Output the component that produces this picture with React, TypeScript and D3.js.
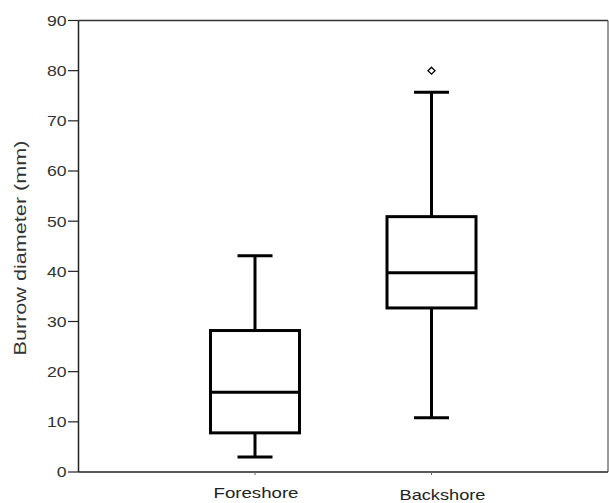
import React from "react";
import * as d3 from "d3";

const categories = ["Foreshore", "Backshore"];
const lowerWhisker = [3.0, 10.8];
const q1 = [7.8, 32.7];
const median = [15.9, 39.7];
const q3 = [28.2, 50.9];
const upperWhisker = [43.1, 75.7];
const outliers: number[][] = [[], [80]];
const yTicks = [0, 10, 20, 30, 40, 50, 60, 70, 80, 90];

const W = 609;
const H = 503;
const left = 78.5;
const right = 608;
const top = 20.5;
const bottom = 472;

export default function App() {
  const y = d3.scaleLinear().domain([0, 90]).range([bottom, top]);
  const x = d3.scalePoint<string>().domain(categories).range([left, right]).padding(1);
  const boxW = 89;
  const capW = 35;
  const font = "Arial, 'Liberation Sans', sans-serif";
  const labelDx = [1, 11];
  const labelY = [498, 499.5];
  const labelLen = [85, 86];
  return (
    <svg width={W} height={H} style={{ position: "absolute", left: 0, top: 0 }}>
      <rect x={0} y={0} width={W} height={H} fill="#fff" />
      <line x1={left} x2={right} y1={top} y2={top} stroke="#333" strokeWidth={1.5} />
      <line x1={right} x2={right} y1={top} y2={bottom} stroke="#555" strokeWidth={1.2} />
      <line x1={left} x2={right} y1={bottom} y2={bottom} stroke="#222" strokeWidth={1.5} />
      <line x1={left} x2={left} y1={top} y2={bottom} stroke="#222" strokeWidth={1.5} />
      {yTicks.map((t) => {
        const s = String(t);
        return (
          <g key={t}>
            <line x1={left - 10.5} x2={left} y1={y(t)} y2={y(t)} stroke="#222" strokeWidth={1.2} />
            <text
              x={66.5}
              y={y(t)}
              dy="0.36em"
              textAnchor="end"
              fontFamily={font}
              fontSize={15}
              fill="#333"
              textLength={s.length * 9.8}
              lengthAdjust="spacingAndGlyphs"
            >
              {s}
            </text>
          </g>
        );
      })}
      <text
        transform={`translate(26,${248}) rotate(-90)`}
        textAnchor="middle"
        fontFamily={font}
        fontSize={16.5}
        fill="#333"
        textLength={215}
        lengthAdjust="spacingAndGlyphs"
      >
        Burrow diameter (mm)
      </text>
      {categories.map((c, i) => {
        const cx = x(c)!;
        return (
          <g key={c} stroke="#000" strokeWidth={3} fill="none">
            <line x1={cx} x2={cx} y1={y(upperWhisker[i])} y2={y(q3[i])} />
            <line x1={cx} x2={cx} y1={y(q1[i])} y2={y(lowerWhisker[i])} />
            <line x1={cx - capW / 2} x2={cx + capW / 2} y1={y(upperWhisker[i])} y2={y(upperWhisker[i])} />
            <line x1={cx - capW / 2} x2={cx + capW / 2} y1={y(lowerWhisker[i])} y2={y(lowerWhisker[i])} />
            <rect x={cx - boxW / 2} y={y(q3[i])} width={boxW} height={y(q1[i]) - y(q3[i])} />
            <line x1={cx - boxW / 2} x2={cx + boxW / 2} y1={y(median[i])} y2={y(median[i])} />
            {outliers[i].map((o, j) => (
              <path
                key={j}
                d={`M${cx},${y(o) - 3.5} L${cx + 3.5},${y(o)} L${cx},${y(o) + 3.5} L${cx - 3.5},${y(o)} Z`}
                strokeWidth={1.3}
              />
            ))}
            <line x1={cx} x2={cx} y1={bottom} y2={bottom + 3} strokeWidth={1} stroke="#666" />
            <text
              x={cx + labelDx[i]}
              y={labelY[i]}
              textAnchor="middle"
              fontFamily={font}
              fontSize={15}
              fill="#222"
              stroke="none"
              textLength={labelLen[i]}
              lengthAdjust="spacingAndGlyphs"
            >
              {c}
            </text>
          </g>
        );
      })}
    </svg>
  );
}
